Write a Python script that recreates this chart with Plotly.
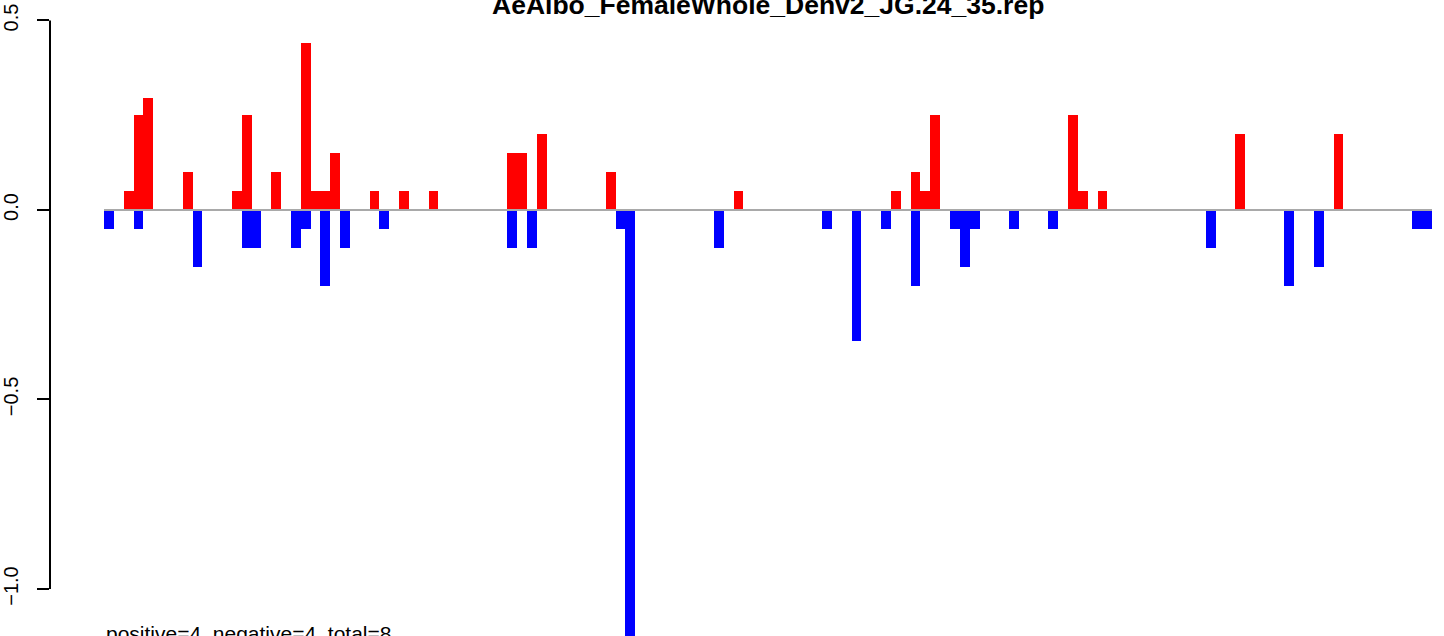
import plotly.graph_objects as go

# ---- data ----
n_bins = 135
pos_idx = [2, 3, 4, 8, 13, 14, 17, 20, 21, 22, 23, 27, 30, 33, 41, 42, 44, 51,
           64, 80, 82, 83, 84, 98, 99, 101, 115, 125]
pos_val = [0.05, 0.25, 0.295, 0.1, 0.05, 0.25, 0.1, 0.44, 0.05, 0.05, 0.15, 0.05,
           0.05, 0.05, 0.15, 0.15, 0.2, 0.1, 0.05, 0.05, 0.1, 0.05, 0.25, 0.25,
           0.05, 0.05, 0.2, 0.2]
neg_idx = [0, 3, 9, 14, 15, 19, 20, 22, 24, 28, 41, 43, 52, 53, 62, 73, 76, 79,
           82, 86, 87, 88, 92, 96, 112, 120, 123, 133, 134]
neg_val = [-0.05, -0.05, -0.15, -0.1, -0.1, -0.1, -0.05, -0.2, -0.1, -0.05, -0.1,
           -0.1, -0.05, -1.2, -0.1, -0.05, -0.345, -0.05, -0.2, -0.05, -0.15,
           -0.05, -0.05, -0.05, -0.1, -0.2, -0.15, -0.05, -0.05]
y_ticks = [-1.0, -0.5, 0.0, 0.5]
y_tick_text = ["\u22121.0", "\u22120.5", "0.0", "0.5"]
title_text = "AeAlbo_FemaleWhole_Denv2_JG.24_35.rep"
note_text = "positive=4, negative=4, total=8"

FONT = "Liberation Sans, Arial, Helvetica, sans-serif"

fig = go.Figure()
fig.add_trace(go.Bar(x=[i + 0.5 for i in pos_idx], y=pos_val, width=1.0,
                     marker=dict(color="#FF0000", line=dict(width=0)),
                     showlegend=False, hoverinfo="x+y"))
fig.add_trace(go.Bar(x=[i + 0.5 for i in neg_idx], y=neg_val, width=1.0,
                     marker=dict(color="#0000FF", line=dict(width=0)),
                     showlegend=False, hoverinfo="x+y"))

# zero reference line across the bars
fig.add_shape(type="line", xref="x", yref="y", x0=0, x1=n_bins, y0=0, y1=0,
              line=dict(color="#A9A9A9", width=2), layer="above")
# y axis line spanning the tick range only (R style)
fig.add_shape(type="line", xref="paper", yref="y", x0=0, x1=0,
              y0=min(y_ticks), y1=max(y_ticks),
              line=dict(color="black", width=2), layer="above")

fig.add_annotation(text="<b>" + title_text + "</b>", xref="x", yref="paper",
                   x=n_bins / 2, y=1.0, yshift=-5, xanchor="center", yanchor="middle",
                   showarrow=False, font=dict(family=FONT, size=26.5, color="black"))
fig.add_annotation(text=note_text, xref="x", yref="paper",
                   x=0, y=0.0, yshift=3, xanchor="left", yanchor="middle",
                   showarrow=False, font=dict(family=FONT, size=21, color="black"))

fig.update_layout(
    width=1444, height=636,
    margin=dict(l=50, r=0, t=0, b=0, autoexpand=False),
    paper_bgcolor="white", plot_bgcolor="white",
    barmode="overlay", bargap=0,
    font=dict(family=FONT, color="black"),
    xaxis=dict(range=[-5.49, 136.22], visible=False, showgrid=False, zeroline=False,
               automargin=False),
    yaxis=dict(range=[-1.124, 0.554], showgrid=False, zeroline=False, showline=False,
               automargin=False,
               tickmode="array", tickvals=y_ticks, ticktext=y_tick_text,
               ticks="outside", ticklen=12, tickwidth=2, tickcolor="black",
               tickangle=-90, ticklabelstandoff=11,
               tickfont=dict(family=FONT, size=20, color="black")),
)

fig.write_html("out.html",
               config={"displayModeBar": False},
               post_script="document.body.style.margin='0px';"
                           "document.body.style.overflow='hidden';")
